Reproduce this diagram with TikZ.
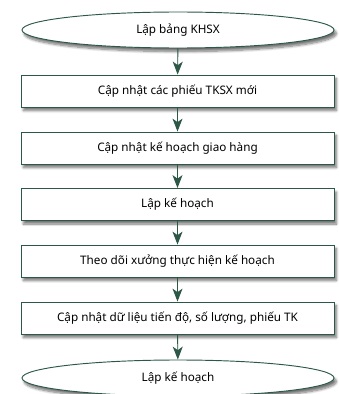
\documentclass[tikz,border=0pt]{standalone}
\usepackage{fontspec}
\setmainfont{Noto Sans}
\usetikzlibrary{shapes.geometric,arrows.meta,shadows.blur}
\definecolor{flowgreen}{RGB}{44,88,72}
\begin{document}
\begin{tikzpicture}
            [x=0.03cm, y=-0.03cm,
            stepbox/.style={rectangle, draw=flowgreen, fill=white, line width=0.8pt,
              minimum width=313*0.03cm, minimum height=32*0.03cm, font=\fontsize{10}{12}\selectfont,
              blur shadow={shadow xshift=2pt, shadow yshift=-3pt, shadow blur steps=8, shadow opacity=55}},
            term/.style={ellipse, draw=flowgreen, fill=white, line width=0.8pt,
              minimum width=312*0.03cm, minimum height=36*0.03cm, inner sep=0pt, font=\fontsize{10}{12}\selectfont,
              blur shadow={shadow xshift=2pt, shadow yshift=-3pt, shadow blur steps=8, shadow opacity=55}},
            flow/.style={draw=flowgreen, line width=0.8pt, -{Stealth[length=11pt, width=8.5pt, inset=3pt]}, fill=flowgreen}]

            \useasboundingbox (0,0) rectangle (339,394);

            \node[term] (start) at (178,30) {Lập bảng KHSX};
            \node[stepbox] (phieu) at (177.5,91) {Cập nhật các phiếu TKSX mới};
            \node[stepbox] (giao) at (177.5,148) {Cập nhật kế hoạch giao hàng};
            \node[stepbox] (lap) at (177.5,204.5) {Lập kế hoạch};
            \node[stepbox] (theo) at (177.5,261) {Theo dõi xưởng thực hiện kế hoạch};
            \node[stepbox] (capnhat) at (177.5,318) {Cập nhật dữ liệu tiến độ, số lượng, phiếu TK};
            \node[term] (end) at (178,378) {Lập kế hoạch};

            % arrows between steps
            \draw[flow] (start) -- (phieu);
            \draw[flow] (phieu) -- (giao);
            \draw[flow] (giao) -- (lap);
            \draw[flow] (lap) -- (theo);
            \draw[flow] (theo) -- (capnhat);
            \draw[flow] (capnhat) -- (end);

        \end{tikzpicture}
\end{document}
